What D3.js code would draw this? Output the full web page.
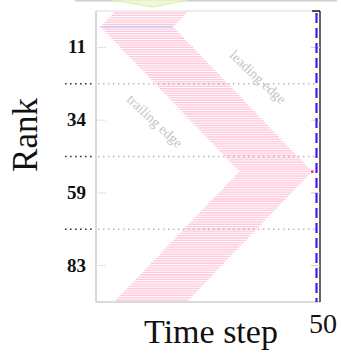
<!DOCTYPE html>
<html><head><meta charset="utf-8">
<script src="https://cdn.jsdelivr.net/npm/d3@7"></script>
<style>body{margin:0;background:#fff}svg{display:block}</style>
</head><body>
<script>
// ---- data ----
const rankLabels = ["11","34","59","83"];
const xTickValues = [50];
const startTimes = [4,3.5,3,2.5,2,1.5,1,
1.5,2,2.5,3,3.5,4,4.5,5,5.5,6,6.5,7,7.5,8,8.5,9,9.5,10,10.5,11,11.5,12,12.5,13,13.5,14,14.5,15,15.5,16,16.5,17,17.5,18,18.5,19,19.5,20,20.5,21,21.5,22,22.5,23,23.5,24,24.5,25,25.5,26,26.5,27,27.5,28,28.5,29,29.5,30,30.5,31,31.5,32,32.5,
32,31.5,31,30.5,30,29.5,29,28.5,28,27.5,27,26.5,26,25.5,25,24.5,24,23.5,23,22.5,22,21.5,21,20.5,20,19.5,19,18.5,18,17.5,17,16.5,16,15.5,15,14.5,14,13.5,13,12.5,12,11.5,11,10.5,10,9.5,9,8.5,8,7.5,7,6.5,6,5.5,5,4.5];
const endTimes = [20.5,20,19.5,19,18.5,18,17.5,
18,18.5,19,19.5,20,20.5,21,21.5,22,22.5,23,23.5,24,24.5,25,25.5,26,26.5,27,27.5,28,28.5,29,29.5,30,30.5,31,31.5,32,32.5,33,33.5,34,34.5,35,35.5,36,36.5,37,37.5,38,38.5,39,39.5,40,40.5,41,41.5,42,42.5,43,43.5,44,44.5,45,45.5,46,46.5,47,47.5,48,48.5,49,
48.5,48,47.5,47,46.5,46,45.5,45,44.5,44,43.5,43,42.5,42,41.5,41,40.5,40,39.5,39,38.5,38,37.5,37,36.5,36,35.5,35,34.5,34,33.5,33,32.5,32,31.5,31,30.5,30,29.5,29,28.5,28,27.5,27,26.5,26,25.5,25,24.5,24,23.5,23,22.5,22,21.5,21];
const highlightRow = 6;   // blue row
const tipRow = 69;        // red marker row
const annotations = ["leading edge","trailing edge"];

// ---- chart ----
const W = 341, H = 355;
const svg = d3.select("body").append("svg").attr("width", W).attr("height", H);

const pL = 96, pR = 320, pT = 11, pB = 302;
const x = d3.scaleLinear().domain([0, 50]).range([pL, 316.5]);
const rows = d3.range(startTimes.length);
const yRow = d3.scalePoint().domain(rows).range([13, 300]);
const yBand = d3.scaleBand().domain(rankLabels).range([pT, pB]);

// top decoration (box bottom + arrow)
svg.append("line").attr("x1", 75).attr("x2", 337).attr("y1", 0.5).attr("y2", 0.5)
  .attr("stroke", "#cfcfcf").attr("stroke-width", 2);
svg.append("path").attr("d", "M112,0 L153,7 L188,0 Z")
  .attr("fill", "#f1f7d8").attr("stroke", "#dde9ae").attr("stroke-width", 1);

// frame
svg.append("line").attr("x1", pL).attr("x2", pL).attr("y1", pT).attr("y2", pB).attr("stroke", "#cccccc").attr("stroke-width", 1.5);
svg.append("line").attr("x1", pL).attr("x2", pR).attr("y1", pB).attr("y2", pB).attr("stroke", "#cccccc").attr("stroke-width", 1.5);
svg.append("line").attr("x1", pL).attr("x2", 312).attr("y1", pT).attr("y2", pT).attr("stroke", "#dddddd").attr("stroke-width", 1.2);
svg.append("line").attr("x1", 312).attr("x2", pR).attr("y1", pT).attr("y2", pT).attr("stroke", "#111").attr("stroke-width", 1.5);
svg.append("line").attr("x1", pR).attr("x2", pR).attr("y1", pT).attr("y2", pB).attr("stroke", "#111").attr("stroke-width", 1.3);

// stripes
svg.append("g").selectAll("line").data(rows).join("line")
  .attr("x1", i => x(startTimes[i])).attr("x2", i => x(endTimes[i]))
  .attr("y1", i => yRow(i)).attr("y2", i => yRow(i))
  .attr("stroke", i => i === highlightRow ? "#b8b8f2" : "#ffc6dc")
  .attr("stroke-width", 1.3);
svg.append("rect").attr("x", x(endTimes[tipRow]) - 1).attr("y", yRow(tipRow) - 1)
  .attr("width", 2.5).attr("height", 2.5).attr("fill", "#ff2a70");

// band separators (dotted)
const seps = rankLabels.slice(1).map(d => yBand(d));
svg.append("g").selectAll("line").data(seps).join("line")
  .attr("x1", 65).attr("x2", 92).attr("y1", d => d).attr("y2", d => d)
  .attr("stroke", "#333").attr("stroke-width", 1.6).attr("stroke-dasharray", "1.6,3.4");
svg.append("g").selectAll("line").data(seps).join("line")
  .attr("x1", 98).attr("x2", 318).attr("y1", d => d).attr("y2", d => d)
  .attr("stroke", "#b5b5b5").attr("stroke-width", 1.4).attr("stroke-dasharray", "1.4,3.6");

// inner tick marks
svg.append("g").selectAll("line").data(rankLabels).join("line")
  .attr("x1", pL).attr("x2", pL + 10)
  .attr("y1", d => yBand(d) + yBand.bandwidth() / 2).attr("y2", d => yBand(d) + yBand.bandwidth() / 2)
  .attr("stroke", "#e2e2e2").attr("stroke-width", 1);
svg.append("g").selectAll("line").data(rankLabels).join("line")
  .attr("x1", 311).attr("x2", pR)
  .attr("y1", d => yBand(d) + yBand.bandwidth() / 2).attr("y2", d => yBand(d) + yBand.bandwidth() / 2)
  .attr("stroke", "#cfcfcf").attr("stroke-width", 1);

// blue dashed line at time 50
svg.append("line").attr("x1", x(50)).attr("x2", x(50)).attr("y1", pT + 2).attr("y2", pB)
  .attr("stroke", "#4a14ff").attr("stroke-width", 2.2).attr("stroke-dasharray", "10,5");

// y axis labels
const yAxis = svg.append("g").attr("transform", `translate(${pL},0)`)
  .call(d3.axisLeft(yBand).tickSize(0).tickPadding(10));
yAxis.select(".domain").remove();
yAxis.selectAll("text").attr("font-family", "Liberation Serif").attr("font-weight", "bold")
  .attr("font-size", 19).attr("fill", "#111");

// x axis label 50
const xAxis = svg.append("g").attr("transform", `translate(0,${pB})`)
  .call(d3.axisBottom(x).tickValues(xTickValues).tickSize(0).tickPadding(0));
xAxis.select(".domain").remove();
xAxis.selectAll("text").attr("font-family", "Liberation Serif").attr("font-size", 28)
  .attr("fill", "#111").attr("dy", "1.1em").attr("dx", 6);

// axis titles
svg.append("text").attr("x", 211).attr("y", 343).attr("text-anchor", "middle")
  .attr("font-family", "Liberation Serif").attr("font-size", 34).attr("fill", "#111").text("Time step");
svg.append("text").attr("transform", "translate(37,135) rotate(-90)").attr("text-anchor", "middle")
  .attr("font-family", "Liberation Serif").attr("font-size", 35).attr("fill", "#111").text("Rank");

// annotations
svg.append("text").attr("transform", "translate(258,77) rotate(43)").attr("text-anchor", "middle")
  .attr("dy", "0.35em").attr("font-family", "Liberation Serif").attr("font-size", 14)
  .attr("fill", "#c4c4c4").text(annotations[0]);
svg.append("text").attr("transform", "translate(155,121) rotate(43)").attr("text-anchor", "middle")
  .attr("dy", "0.35em").attr("font-family", "Liberation Serif").attr("font-size", 14)
  .attr("fill", "#c4c4c4").text(annotations[1]);
</script>
</body></html>
